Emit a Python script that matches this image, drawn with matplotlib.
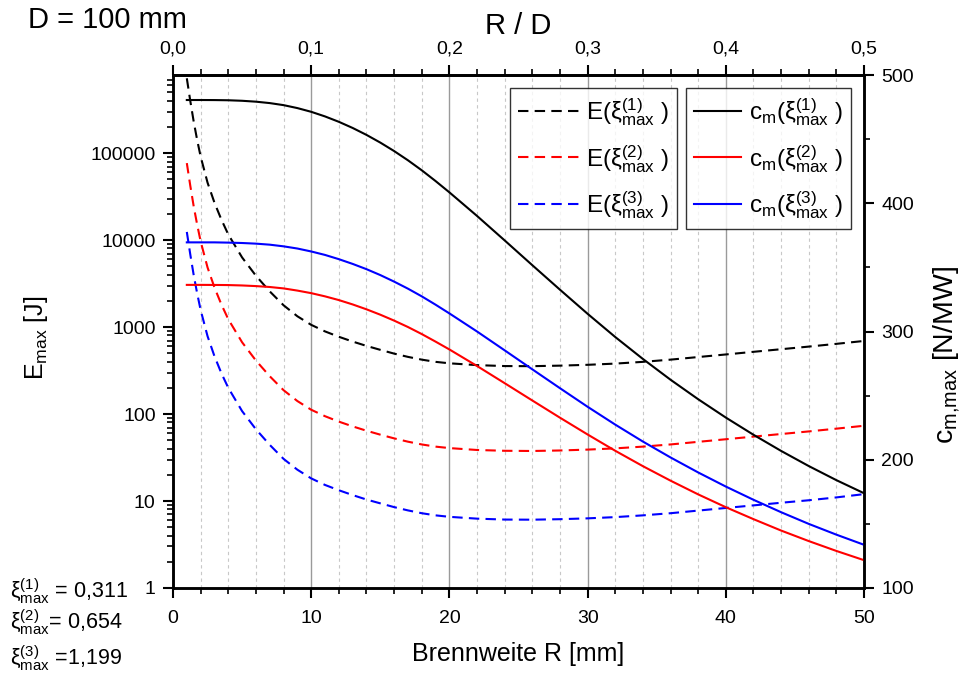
import numpy as np
import matplotlib
matplotlib.use("Agg")
import matplotlib.pyplot as plt
from matplotlib.ticker import FixedLocator, MultipleLocator, LogLocator, FuncFormatter, NullFormatter

plt.rcParams.update({
    "font.family": ["Liberation Sans", "DejaVu Sans"],
    "mathtext.fontset": "custom",
    "mathtext.rm": "Liberation Sans",
    "mathtext.it": "Liberation Sans:italic",
    "mathtext.bf": "Liberation Sans:bold",
    "mathtext.default": "regular",
})

# focal length R [mm] for the energy curves
R_E = [1, 1.25, 1.5, 1.75, 2, 2.5, 3, 3.5, 4, 5, 6, 7, 8, 9, 10, 11, 12, 13, 14, 15, 16, 17, 18, 19,
       20, 22, 24, 26, 28, 30, 32, 34, 36, 38, 40, 42, 44, 46, 48, 50]

# maximum energy E_max [J] for the three xi_max values
E_xi1 = [724000, 398000, 229000, 141000, 91200, 45700, 26900, 17200, 11600, 6310, 3890, 2570, 1780,
         1330, 1060, 891, 773, 681, 607, 547, 495, 454, 422, 398, 383, 365, 356, 355, 360, 368, 380,
         398, 422, 452, 484, 519, 556, 596, 641, 692]
E_xi2 = [76700, 42200, 24300, 15000, 9660, 4840, 2850, 1820, 1230, 668, 412, 272, 188, 141, 112,
         94.4, 81.8, 72.1, 64.3, 57.9, 52.5, 48.1, 44.7, 42.2, 40.6, 38.6, 37.8, 37.6, 38.1, 39.0,
         40.3, 42.2, 44.7, 47.9, 51.3, 55.0, 58.9, 63.1, 67.9, 73.3]
E_xi3 = [12400, 6840, 3940, 2430, 1570, 785, 462, 295, 200, 108, 66.8, 44.2, 30.5, 22.9, 18.2,
         15.3, 13.3, 11.7, 10.4, 9.40, 8.51, 7.80, 7.24, 6.84, 6.58, 6.27, 6.12, 6.10, 6.18, 6.32,
         6.53, 6.84, 7.24, 7.76, 8.32, 8.91, 9.55, 10.2, 11.0, 12.0]

# focal length R [mm] for the coupling curves
R_cm = [1, 2, 3, 4, 5, 6, 7, 8, 9, 10, 11, 12, 13, 14, 15, 16, 17, 18, 19, 20,
        22, 24, 26, 28, 30, 32, 34, 36, 38, 40, 42, 44, 46, 48, 50]

# momentum coupling c_m,max [N/MW]
cm_xi1 = [480.5, 480.5, 480.45, 480.3, 479.9, 479.2, 478.1, 476.5, 474.2, 471.3, 467.7, 463.5, 458.7,
          453.3, 447.3, 440.7, 433.5, 425.7, 417.3, 408.5, 390.1, 371.0, 351.7, 332.6, 313.8, 295.7,
          278.6, 262.4, 247.2, 232.9, 219.5, 206.9, 195.1, 184.1, 173.9]
cm_xi2 = [336.35, 336.35, 336.3, 336.2, 335.9, 335.4, 334.7, 333.6, 331.9, 329.9, 327.4, 324.5, 321.1,
          317.3, 313.1, 308.5, 303.5, 298.0, 292.1, 286.0, 273.1, 259.7, 246.2, 232.8, 219.7, 207.0,
          195.0, 183.7, 173.0, 163.0, 153.7, 144.8, 136.6, 128.9, 121.7]
cm_xi3 = [369.5, 369.5, 369.5, 369.3, 369.0, 368.5, 367.7, 366.4, 364.7, 362.4, 359.7, 356.4, 352.7,
          348.6, 344.0, 338.9, 333.4, 327.4, 320.9, 314.1, 300.0, 285.3, 270.5, 255.8, 241.3, 227.4,
          214.2, 201.8, 190.1, 179.1, 168.8, 159.1, 150.0, 141.6, 133.7]

xi_labels = ["1", "2", "3"]
xi_values = [" = 0,311", "= 0,654", " =1,199"]
colors = ["black", "red", "blue"]
D_mm = 100

fig = plt.figure(figsize=(9.67, 6.84), dpi=100)
ax = fig.add_axes([173 / 967, 1 - 588 / 684, 691 / 967, 513 / 684])
ax2 = ax.twinx()

lw = 1.5
dash = (0, (5, 3))
e_lines = []
for E, c, n in zip([E_xi1, E_xi2, E_xi3], colors, xi_labels):
    ln, = ax.plot(R_E, E, color=c, lw=lw, linestyle=dash,
                  label=r"E($\xi_{max}^{(%s)}$ )" % n)
    e_lines.append(ln)
c_lines = []
for cm, c, n in zip([cm_xi1, cm_xi2, cm_xi3], colors, xi_labels):
    ln, = ax2.plot(R_cm, cm, color=c, lw=lw, label=r"c$_m$($\xi_{max}^{(%s)}$ )" % n)
    c_lines.append(ln)

# left axis: log energy
ax.set_yscale("log")
ax.set_ylim(1, 7.9e5)
ax.set_xlim(0, 50)
ax.yaxis.set_major_locator(FixedLocator([1, 10, 100, 1000, 10000, 100000]))
ax.yaxis.set_major_formatter(FuncFormatter(lambda v, p: "%d" % round(v)))
ax.yaxis.set_minor_locator(LogLocator(base=10, subs=np.arange(2, 10), numticks=20))
ax.yaxis.set_minor_formatter(NullFormatter())
ax.xaxis.set_major_locator(MultipleLocator(10))
ax.xaxis.set_minor_locator(MultipleLocator(2))

# right axis: c_m
ax2.set_ylim(100, 500)
ax2.yaxis.set_major_locator(MultipleLocator(100))
ax2.yaxis.set_minor_locator(MultipleLocator(50))

# vertical grid
ax.grid(True, which="major", axis="x", color="#9a9a9a", lw=1.0, ls="-")
ax.grid(True, which="minor", axis="x", color="#c8c8c8", lw=0.8, ls=(0, (3, 3)))
ax.set_axisbelow(True)

# top axis: R / D
top = ax.secondary_xaxis("top", functions=(lambda r: r / D_mm, lambda q: q * D_mm))
top.xaxis.set_major_locator(FixedLocator([0.0, 0.1, 0.2, 0.3, 0.4, 0.5]))
top.xaxis.set_minor_locator(FixedLocator(np.arange(0.02, 0.5, 0.02)))
top.xaxis.set_major_formatter(FuncFormatter(lambda v, p: ("%.1f" % v).replace(".", ",")))

tick_fs = 14
for a in (ax, ax2, top):
    a.tick_params(which="major", direction="out", length=7.5, width=1.5, labelsize=tick_fs, pad=5)
    a.tick_params(which="minor", direction="out", length=4.3, width=1.2)
ax.tick_params(axis="x", which="major", pad=8)
for a in (ax, ax2):
    for s in a.spines.values():
        s.set_linewidth(1.8)
top.spines["top"].set_linewidth(1.8)

ax.set_xlabel("Brennweite R [mm]", fontsize=18, labelpad=11)
ax.set_ylabel(r"E$_{max}$ [J]", fontsize=18)
ax.yaxis.set_label_coords(-0.178, 0.487)
ax2.set_ylabel(r"c$_{m{,}max}$ [N/MW]", fontsize=20.5)
ax2.yaxis.set_label_coords(1.098, 0.455)
top.set_xlabel("R / D", fontsize=21, labelpad=5)

leg_kw = dict(fontsize=17.5, frameon=True, fancybox=False, edgecolor="black",
              handletextpad=0.3, labelspacing=0.62,
              borderpad=0.33, borderaxespad=0, loc="upper left")
leg1 = ax2.legend(handles=e_lines, handlelength=2.5,
                  bbox_to_anchor=((510 - 173) / 691, (588 - 88) / 513), **leg_kw)
leg1.get_frame().set_linewidth(1.0)
ax2.add_artist(leg1)
leg2 = ax2.legend(handles=c_lines, handlelength=1.95,
                  bbox_to_anchor=((686 - 173) / 691, (588 - 88) / 513), **leg_kw)
leg2.get_frame().set_linewidth(1.0)

fig.text(28 / 967, 1 - 20 / 684, "D = 100 mm", fontsize=21, ha="left", va="center")
for i, (n, v) in enumerate(zip(xi_labels, xi_values)):
    y = [591, 622, 658][i]
    fig.text(10 / 967, 1 - y / 684, r"$\xi_{max}^{(%s)}$%s" % (n, v), fontsize=15.5,
             ha="left", va="center")

fig.savefig("out.png", dpi=100)
